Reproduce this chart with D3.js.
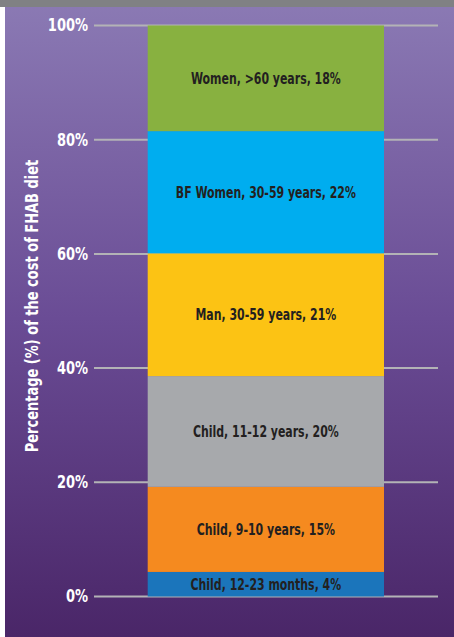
<!DOCTYPE html>
<html><head><meta charset="utf-8">
<script src="https://cdn.jsdelivr.net/npm/d3@7"></script>
<style>body{margin:0;background:#fff}svg{display:block}</style>
</head><body>
<script>
const categories = ["Child, 12-23 months, 4%","Child, 9-10 years, 15%","Child, 11-12 years, 20%","Man, 30-59 years, 21%","BF Women, 30-59 years, 22%","Women, >60 years, 18%"];
const values = [4.3, 14.9, 19.4, 21.5, 21.4, 18.5];
const colors = ["#1b75bb","#f58a1f","#a7a9ac","#fcc314","#00adef","#88b140"];
const tickValues = [0,20,40,60,80,100];
const tickLabels = ["0%","20%","40%","60%","80%","100%"];
const yTitle = "Percentage (%) of the cost of FHAB diet";

const W=454,H=637;
const svg=d3.select("body").append("svg").attr("width",W).attr("height",H);
const defs=svg.append("defs");
const g=defs.append("linearGradient").attr("id","bg").attr("x1",0).attr("y1",0).attr("x2",0).attr("y2",1);
g.append("stop").attr("offset","0%").attr("stop-color","#8b7ab4");
g.append("stop").attr("offset","50%").attr("stop-color","#6a4c95");
g.append("stop").attr("offset","100%").attr("stop-color","#4a2668");
svg.append("rect").attr("x",5).attr("y",0).attr("width",W-5).attr("height",H).attr("fill","url(#bg)");
svg.append("rect").attr("x",0).attr("y",0).attr("width",W).attr("height",7).attr("fill","#808184");

const y=d3.scaleLinear().domain([0,100]).range([596.5,25.5]);
const font="'Liberation Sans Narrow','DejaVu Sans Condensed','Arial Narrow',sans-serif";

// gridlines
svg.append("g").selectAll("line").data(tickValues).join("line")
  .attr("x1",94).attr("x2",438).attr("y1",d=>y(d)).attr("y2",d=>y(d))
  .attr("stroke","#b3b3b6").attr("stroke-width",2);

const axis=d3.axisLeft(y).tickValues(tickValues).tickFormat((d,i)=>tickLabels[i]).tickSize(0).tickPadding(0);
const ag=svg.append("g").attr("transform","translate(94,0)").call(axis);
ag.select(".domain").remove();
ag.selectAll("text").attr("x",0).attr("transform","translate(-6,0) scale(0.85,1)")
  .attr("fill","#fff").attr("font-family",font).attr("font-weight","bold").attr("font-size",17);

// stacked
let cum=0;
const segs=values.map((v,i)=>{const s={y0:cum,y1:cum+v,c:colors[i],label:categories[i]};cum+=v;return s;});
const bx=147.7,bw=384-147.7;
svg.append("g").selectAll("rect").data(segs).join("rect")
  .attr("x",bx).attr("width",bw).attr("y",d=>y(d.y1)).attr("height",d=>y(d.y0)-y(d.y1)).attr("fill",d=>d.c);
svg.append("g").selectAll("text").data(segs).join("text")
  .attr("transform",d=>`translate(${bx+bw/2},${(y(d.y0)+y(d.y1))/2}) scale(0.76,1)`)
  .attr("dy","0.36em")
  .attr("text-anchor","middle").attr("fill","#231f20").attr("font-family",font).attr("font-weight","bold").attr("font-size",16)
  .text(d=>d.label);

svg.append("text").attr("transform","translate(38,306) rotate(-90) scale(0.85,1)").attr("text-anchor","middle")
  .attr("fill","#fff").attr("font-family",font).attr("font-weight","bold").attr("font-size",17).text(yTitle);
</script>
</body></html>
